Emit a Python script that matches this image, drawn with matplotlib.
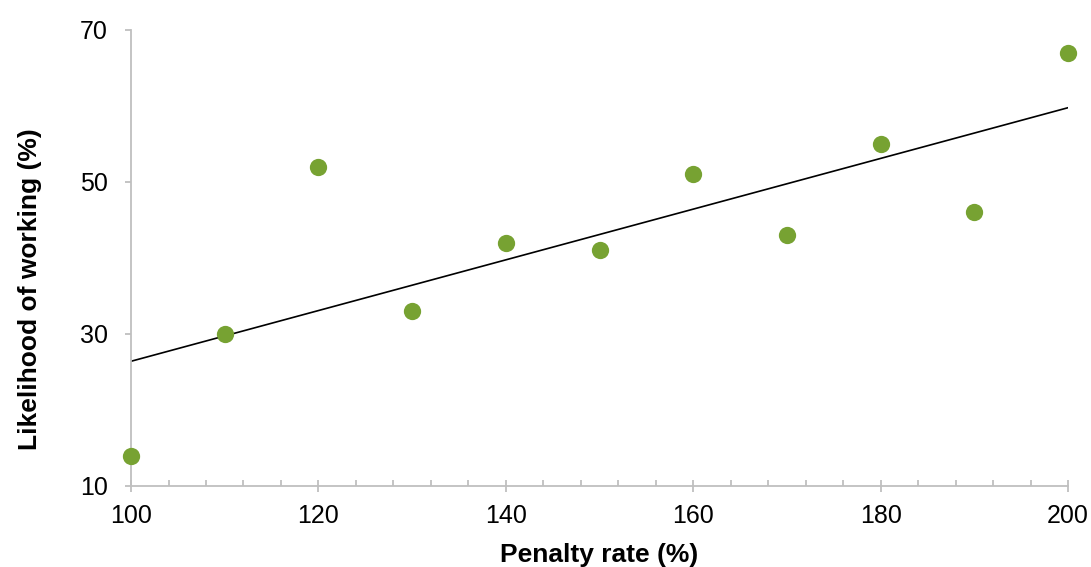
import numpy as np
import matplotlib.pyplot as plt
from matplotlib.ticker import MultipleLocator

plt.rcParams['font.family'] = ['Liberation Sans', 'DejaVu Sans']

# penalty rate vs likelihood of working
penalty = [100, 110, 120, 130, 140, 150, 160, 170, 180, 190, 200]
likelihood = [14, 30, 52, 33, 42, 41, 51, 43, 55, 46, 67]

fig = plt.figure(figsize=(10.91, 5.67), dpi=100)
ax = fig.add_axes([0.1201, 0.1429, 0.8588, 0.8042])

ax.scatter(penalty, likelihood, s=155, color='#77A232', zorder=3,
           linewidths=0, clip_on=False)

# linear trend line
slope, icpt = np.polyfit(penalty, likelihood, 1)
xs = np.array([min(penalty), max(penalty)])
ax.plot(xs, slope * xs + icpt, color='black', lw=1.2, zorder=2)

ax.set_xlim(100, 200)
ax.set_ylim(10, 70)
ax.set_xticks([100, 120, 140, 160, 180, 200])
ax.set_yticks([10, 30, 50, 70])
ax.xaxis.set_minor_locator(MultipleLocator(4))

for s in ['top', 'right']:
    ax.spines[s].set_visible(False)
for s in ['left', 'bottom']:
    ax.spines[s].set_color('#BFBFBF')
    ax.spines[s].set_linewidth(1.3)

ax.tick_params(axis='x', which='major', direction='inout', length=8, width=1.3,
               color='#BFBFBF', labelsize=18, pad=9)
ax.tick_params(axis='x', which='minor', direction='in', length=4.3, width=1.3,
               color='#BFBFBF')
ax.tick_params(axis='y', which='major', direction='out', length=4.5, width=1.3,
               color='#BFBFBF', labelsize=18, pad=12)

ax.set_xlabel('Penalty rate (%)', fontsize=19, fontweight='bold')
ax.set_ylabel('Likelihood of working (%)', fontsize=19, fontweight='bold')
ax.xaxis.set_label_coords(0.5, -0.125)
ax.yaxis.set_label_coords(-0.095, 0.432)

fig.savefig('out.png', dpi=100)
